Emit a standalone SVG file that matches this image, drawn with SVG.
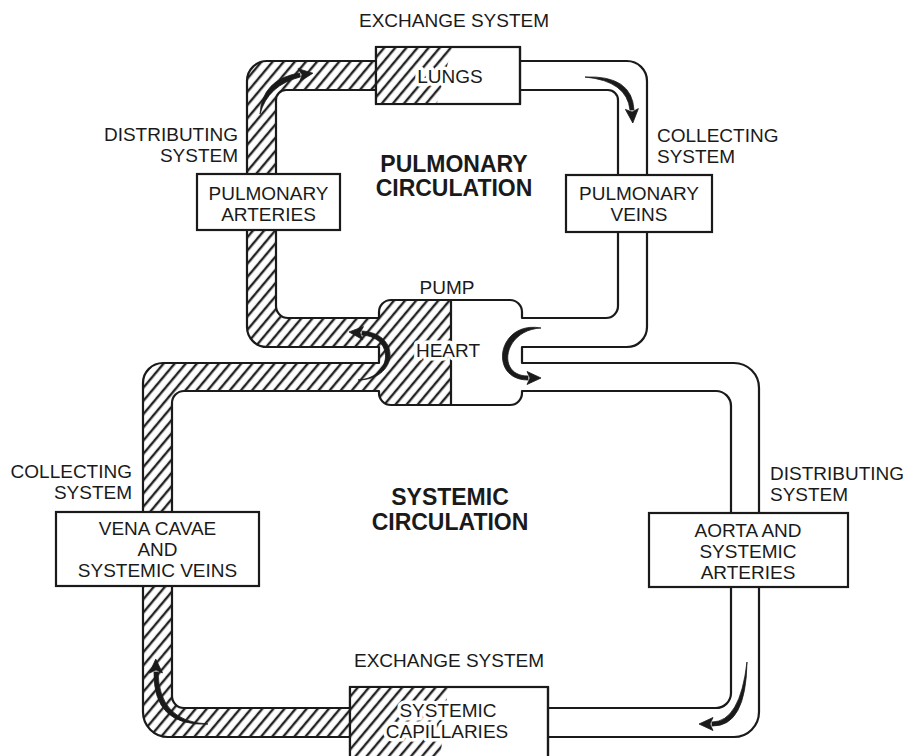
<svg xmlns="http://www.w3.org/2000/svg" width="909" height="756" viewBox="0 0 909 756">
<style>
.ln{fill:none;stroke:#1a1a1a;stroke-width:2.2;stroke-linejoin:round;stroke-linecap:round}
.box{fill:#fff;stroke:#1a1a1a;stroke-width:2.2}
.t{font-family:"Liberation Sans",Arial,Helvetica,sans-serif;font-size:19px;fill:#1a1a1a}
.c{text-anchor:middle}
.e{text-anchor:end}
.b{font-weight:bold;font-size:23px}
.halo{paint-order:stroke;stroke:#fff;stroke-width:7px;stroke-linejoin:round}
.arw{fill:#1a1a1a;stroke:#1a1a1a;stroke-width:0.8;stroke-linejoin:round}
</style>
<defs>
<pattern id="hatch" patternUnits="userSpaceOnUse" width="8.5" height="8.5" patternTransform="rotate(40)">
<rect width="8.5" height="8.5" fill="#fff"/>
<line x1="2" y1="-1" x2="2" y2="9.5" stroke="#222" stroke-width="2.4"/>
</pattern>
</defs>
<rect width="909" height="756" fill="#fff"/>

<g id="connectors">
<!-- pulmonary loop -->
<path fill="url(#hatch)" d="M379,347 H267 A20,20 0 0 1 247,327 V81 A20,20 0 0 1 267,61 H376 V90 H286 A10,10 0 0 0 276,100 V306 A12,12 0 0 0 288,318 H379 Z"/>
<path class="ln" d="M379,347 H267 A20,20 0 0 1 247,327 V81 A20,20 0 0 1 267,61 H376 M520,61 H627 A20,20 0 0 1 647,81 V327 A20,20 0 0 1 627,347 H522"/>
<path class="ln" d="M379,318 H288 A12,12 0 0 1 276,306 V100 A10,10 0 0 1 286,90 H376 M520,90 H608 A10,10 0 0 1 618,100 V306 A12,12 0 0 1 606,318 H522"/>
<!-- systemic loop -->
<path fill="url(#hatch)" d="M379,363 H163 A20,20 0 0 0 143,383 V712 A25,25 0 0 0 168,737 H350 V708 H184 A12,12 0 0 1 172,696 V403 A12,12 0 0 1 184,391 H379 Z"/>
<path class="ln" d="M379,363 H163 A20,20 0 0 0 143,383 V712 A25,25 0 0 0 168,737 H350 M548,737 H734 A25,25 0 0 0 759,712 V388 A25,25 0 0 0 734,363 H522"/>
<path class="ln" d="M379,391 H184 A12,12 0 0 0 172,403 V696 A12,12 0 0 0 184,708 H350 M548,708 H716 A15,15 0 0 0 731,693 V406 A15,15 0 0 0 716,391 H522"/>
</g>

<g id="heart">
<path fill="url(#hatch)" d="M450,300 H391 A12,12 0 0 0 379,312 V393 A12,12 0 0 0 391,405 H450 Z"/>
<path fill="#fff" d="M450,300 H510 A12,12 0 0 1 522,312 V393 A12,12 0 0 1 510,405 H450 Z"/>
<path class="ln" d="M379,318 V312 A12,12 0 0 1 391,300 H510 A12,12 0 0 1 522,312 V318 M522,347 V363 M522,391 V393 A12,12 0 0 1 510,405 H391 A12,12 0 0 1 379,393 V391 M379,347 V363 M451,300 V405"/>
<text class="t c" x="447" y="294">PUMP</text>
<text class="t c halo" x="448" y="357">HEART</text>
</g>

<g id="lungs">
<rect class="box" x="376" y="47" width="144" height="57"/>
<path fill="url(#hatch)" d="M377,48 H452 L437,103 H377 Z"/>
<rect class="ln" x="376" y="47" width="144" height="57"/>
<text class="t c halo" x="450" y="83">LUNGS</text>
</g>

<g id="capillaries">
<rect class="box" x="350" y="687" width="198" height="80"/>
<path fill="url(#hatch)" d="M351,688 H448 L440,760 H351 Z"/>
<rect class="ln" x="350" y="687" width="198" height="80"/>
<text class="t c halo" x="448" y="717">SYSTEMIC</text>
<text class="t c halo" x="447" y="738">CAPILLARIES</text>
</g>

<g id="pulmonary-arteries">
<rect class="box" x="197" y="174" width="143" height="56"/>
<text class="t c" x="268.5" y="200">PULMONARY</text>
<text class="t c" x="268.5" y="221">ARTERIES</text>
</g>

<g id="pulmonary-veins">
<rect class="box" x="566" y="175" width="146" height="57"/>
<text class="t c" x="639" y="200">PULMONARY</text>
<text class="t c" x="639" y="221">VEINS</text>
</g>

<g id="vena-cavae">
<rect class="box" x="56" y="512" width="203" height="74"/>
<text class="t c" x="157.5" y="535">VENA CAVAE</text>
<text class="t c" x="157.5" y="556">AND</text>
<text class="t c" x="157.5" y="577">SYSTEMIC VEINS</text>
</g>

<g id="aorta">
<rect class="box" x="649" y="513" width="199" height="74"/>
<text class="t c" x="748" y="537">AORTA AND</text>
<text class="t c" x="748" y="558">SYSTEMIC</text>
<text class="t c" x="748" y="579">ARTERIES</text>
</g>

<g id="flow-arrows">
<path class="arw" d="M260,114 Q262,79 299.7,73 L300.3,77 Q268,85 260,114 Z"/>
<polygon class="arw" points="312.9,73.2 299.9,81.6 302,74.7 298.1,68.7"/>
<path class="arw" d="M585,77 Q632,75 634,109.9 L630,110.1 Q627,81 585,77 Z"/>
<polygon class="arw" points="632.8,123 625.4,109.4 632.1,112 638.4,108.6"/>
<path class="arw" d="M358,380 C398,380 402,334 362.2,331 L361.8,335 C395,337 393,378 358,380 Z"/>
<polygon class="arw" points="349,331.9 363.5,326.6 360,332.8 362.5,339.6"/>
<path class="arw" d="M541,328 C497,320 488,380 528,380 L528,376 C496,376 503,330 541,328 Z"/>
<polygon class="arw" points="541,378 527,384.5 530,378 527,371.5"/>
<path class="arw" d="M747,662 Q746,727 712,726 L712,722 Q740,722 747,662 Z"/>
<polygon class="arw" points="699,724 713,717.5 710,724 713,730.5"/>
<path class="arw" d="M208,724 Q153,727 154,672 L158,672 Q159,722 208,724 Z"/>
<polygon class="arw" points="155.75,659 162.5,672.9 156,670 149.5,673.1"/>
</g>

<g id="labels">
<text class="t c" x="454" y="27">EXCHANGE SYSTEM</text>
<text class="t e" x="238" y="141">DISTRIBUTING</text>
<text class="t e" x="238" y="162">SYSTEM</text>
<text class="t" x="657" y="142">COLLECTING</text>
<text class="t" x="657" y="163">SYSTEM</text>
<text class="t c b" x="454" y="172">PULMONARY</text>
<text class="t c b" x="454" y="196">CIRCULATION</text>
<text class="t e" x="132" y="478">COLLECTING</text>
<text class="t e" x="132" y="499">SYSTEM</text>
<text class="t" x="770" y="480">DISTRIBUTING</text>
<text class="t" x="770" y="501">SYSTEM</text>
<text class="t c b" x="450" y="505">SYSTEMIC</text>
<text class="t c b" x="450" y="530">CIRCULATION</text>
<text class="t c" x="449" y="667">EXCHANGE SYSTEM</text>
</g>
</svg>
